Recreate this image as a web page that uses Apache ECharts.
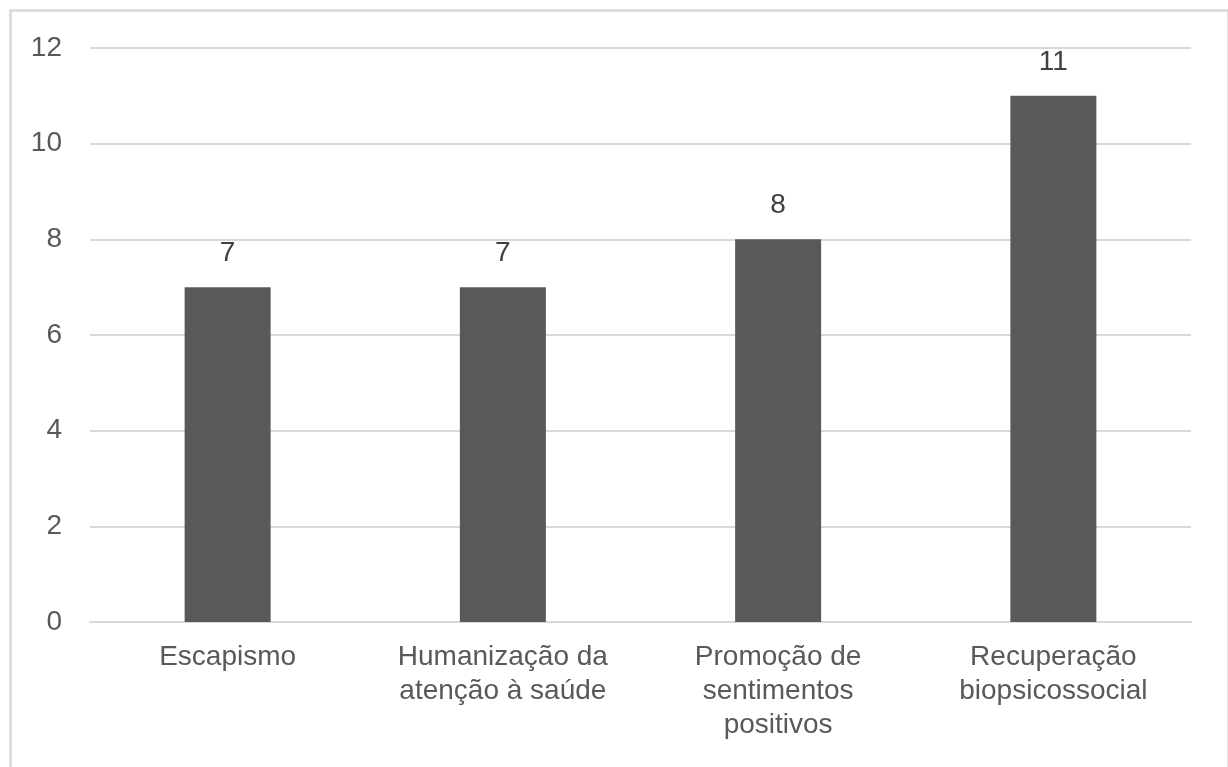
<!DOCTYPE html>
<html>
<head>
<meta charset="utf-8">
<script src="https://cdn.jsdelivr.net/npm/echarts@6/dist/echarts.min.js"></script>
<style>html,body{margin:0;padding:0;background:#fff}#c{width:1228px;height:767px}</style>
</head>
<body>
<div id="c"></div>
<script>
const categories = ["Escapismo", "Humanização da\natenção à saúde", "Promoção de\nsentimentos\npositivos", "Recuperação\nbiopsicossocial"];
const values = [7, 7, 8, 11];
const yTicks = [0, 2, 4, 6, 8, 10, 12];

const chart = echarts.init(document.getElementById('c'), null, {renderer: 'canvas'});
const font = '"Liberation Sans", Arial, sans-serif';
chart.setOption({
  animation: false,
  backgroundColor: '#fff',
  graphic: [{
    type: 'rect', left: 8, top: 8, z: 0,
    shape: {width: 1218, height: 800},
    style: {fill: 'none', stroke: '#d9d9d9', lineWidth: 2.5}
  }],
  grid: {left: 90, right: 37, top: 48, bottom: 145, containLabel: false},
  xAxis: {
    type: 'category', data: categories,
    axisLine: {show: true, lineStyle: {color: '#d9d9d9', width: 2}},
    axisTick: {show: false},
    axisLabel: {color: '#595959', fontSize: 28, fontFamily: font, margin: 18, lineHeight: 34, interval: 0}
  },
  yAxis: {
    type: 'value', min: yTicks[0], max: yTicks[yTicks.length - 1], interval: 2,
    axisLine: {show: false}, axisTick: {show: false},
    splitLine: {lineStyle: {color: '#d9d9d9', width: 2}},
    axisLabel: {color: '#595959', fontSize: 28, fontFamily: font, margin: 28}
  },
  series: [{
    type: 'bar', data: values, barWidth: 86,
    itemStyle: {color: '#595959'},
    label: {show: true, position: 'top', distance: 20, color: '#404040', fontSize: 28, fontFamily: font}
  }]
});
</script>
</body>
</html>
